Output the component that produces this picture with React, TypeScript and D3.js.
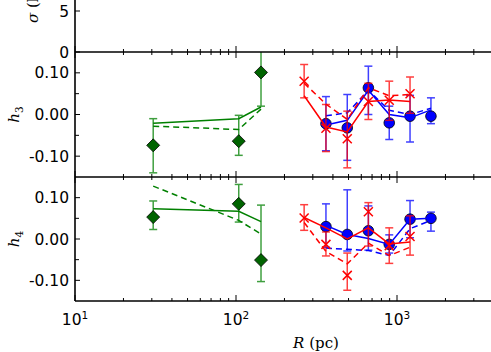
import React from 'react'
import * as d3 from 'd3'

// radii (pc) for each data set
const greenR = [30.6, 104, 143]
const redR = [265, 362, 491, 664, 895, 1205]
const blueR = [362, 491, 664, 895, 1205, 1625]

// h3 panel
const greenH3 = [-0.074, -0.064, 0.101]
const greenH3Lo = [-0.140, -0.098, 0.020]
const greenH3Hi = [-0.010, -0.002, 0.185]
const greenH3Solid = [-0.021, -0.010, 0.018]
const greenH3Dashed = [-0.028, -0.036, 0.013]

const redH3 = [0.080, -0.033, -0.058, 0.031, 0.034, 0.050]
const redH3Lo = [0.040, -0.089, -0.128, -0.012, -0.014, 0.003]
const redH3Hi = [0.120, 0.024, 0.008, 0.075, 0.080, 0.090]
const redH3Solid = [0.045, -0.030, -0.042, 0.031, 0.035, 0.031]
const redH3Dashed = [0.075, 0.025, -0.012, 0.064, 0.045, 0.048]

const blueH3 = [-0.022, -0.032, 0.064, -0.020, -0.004, -0.004]
const blueH3Lo = [-0.087, -0.110, 0.000, -0.060, -0.066, -0.022]
const blueH3Hi = [0.043, 0.048, 0.116, 0.020, 0.046, 0.040]
const blueH3Solid = [-0.025, -0.014, 0.058, 0.000, -0.008, 0.011]
const blueH3Dashed = [-0.003, 0.004, 0.058, 0.010, 0.000, 0.015]

// h4 panel
const greenH4 = [0.053, 0.085, -0.051]
const greenH4Lo = [0.023, 0.041, -0.103]
const greenH4Hi = [0.092, 0.132, 0.082]
const greenH4Solid = [0.073, 0.067, 0.042]
const greenH4Dashed = [0.128, 0.045, 0.012]

const redH4 = [0.051, -0.013, -0.088, 0.066, -0.016, 0.006]
const redH4Lo = [0.021, -0.041, -0.124, -0.017, -0.059, -0.039]
const redH4Hi = [0.083, 0.017, -0.034, 0.088, 0.027, 0.056]
const redH4Solid = [0.052, 0.027, 0.000, 0.027, -0.012, -0.007]
const redH4Dashed = [0.040, -0.030, -0.060, -0.010, -0.040, -0.020]

const blueH4 = [0.030, 0.011, 0.020, -0.013, 0.048, 0.050]
const blueH4Lo = [-0.020, -0.029, -0.027, -0.034, 0.003, 0.019]
const blueH4Hi = [0.085, 0.119, 0.080, 0.010, 0.093, 0.065]
const blueH4Solid = [0.033, 0.011, 0.001, -0.013, 0.048, 0.050]
const blueH4Dashed = [-0.022, -0.025, -0.028, -0.040, 0.025, 0.045]

const hTicks = [0.1, 0, -0.1]
const hTickLabels = ['0.10', '0.00', '-0.10']
const hMinor = [0.05, -0.05]
const sigmaTicks = [5, 0]
const xMajor = [10, 100, 1000]
const xExp = ['1', '2', '3']

const GREEN = '#008000'
const RED = '#ff0000'
const BLUE = '#0000ff'

const width = 491
const height = 352
const left = 75
const right = 495
const tickFont = 15.5

const x = d3.scaleLog().domain([10, 4000]).range([left, left + 161 * Math.log10(400)])
const ySig = d3.scaleLinear().domain([0, 15]).range([52, -71])
const yH3 = d3.scaleLinear().domain([-0.15, 0.15]).range([177, 52])
const yH4 = d3.scaleLinear().domain([-0.15, 0.15]).range([301, 177])

const xMinor: number[] = []
for (const dec of [10, 100, 1000]) {
  for (let k = 2; k <= 9; k++) if (dec * k <= 4000) xMinor.push(dec * k)
}

type Set = {
  r: number[]; v: number[]; lo: number[]; hi: number[]; solid: number[]; dashed: number[]
  color: string; marker: 'diamond' | 'x' | 'circle'
}

const Series = ({ s, y }: { s: Set; y: d3.ScaleLinear<number, number> }) => {
  const ln = d3.line<number>().x((_, i) => x(s.r[i])).y(d => y(d))
  return (
    <g>
      {s.r.map((r, i) => (
        <g key={'e' + i} stroke={s.color} strokeWidth={1.5} opacity={0.75}>
          <line x1={x(r)} x2={x(r)} y1={y(s.lo[i])} y2={y(s.hi[i])} />
          <line x1={x(r) - 4} x2={x(r) + 4} y1={y(s.lo[i])} y2={y(s.lo[i])} />
          <line x1={x(r) - 4} x2={x(r) + 4} y1={y(s.hi[i])} y2={y(s.hi[i])} />
        </g>
      ))}
      {s.r.map((r, i) => {
        const cx = x(r), cy = y(s.v[i])
        if (s.marker === 'diamond')
          return <path key={'m' + i} d={`M${cx},${cy - 6.5}L${cx + 6.5},${cy}L${cx},${cy + 6.5}L${cx - 6.5},${cy}Z`} fill="#006400" stroke="#000" strokeWidth={0.8} />
        if (s.marker === 'circle')
          return <circle key={'m' + i} cx={cx} cy={cy} r={5.3} fill={BLUE} stroke="#000" strokeWidth={0.8} />
        return <path key={'m' + i} d={`M${cx - 4.5},${cy - 4.5}L${cx + 4.5},${cy + 4.5}M${cx - 4.5},${cy + 4.5}L${cx + 4.5},${cy - 4.5}`} stroke={s.color} strokeWidth={1.5} />
      })}
      <path d={ln(s.solid) ?? ''} fill="none" stroke={s.color} strokeWidth={1.5} />
      <path d={ln(s.dashed) ?? ''} fill="none" stroke={s.color} strokeWidth={1.5} strokeDasharray="6,4" />
    </g>
  )
}

const XTicks = ({ top, bottom }: { top: number; bottom: number }) => (
  <g stroke="#000" strokeWidth={1}>
    {xMajor.map(t => (
      <g key={'M' + t}>
        <line x1={x(t)} x2={x(t)} y1={top} y2={top + 6} />
        <line x1={x(t)} x2={x(t)} y1={bottom} y2={bottom - 6} />
      </g>
    ))}
    {xMinor.map(t => (
      <g key={'m' + t}>
        <line x1={x(t)} x2={x(t)} y1={top} y2={top + 3} />
        <line x1={x(t)} x2={x(t)} y1={bottom} y2={bottom - 3} />
      </g>
    ))}
  </g>
)

const HPanel = ({ y, id, label, sets }: { y: d3.ScaleLinear<number, number>; id: string; label: string; sets: Set[] }) => {
  const [bottom, top] = y.range()
  return (
    <g>
      <clipPath id={id}>
        <rect x={left} y={top} width={right - left} height={bottom - top} />
      </clipPath>
      <g clipPath={`url(#${id})`}>
        {sets.map((s, i) => <Series key={i} s={s} y={y} />)}
      </g>
      <XTicks top={top} bottom={bottom} />
      {hTicks.map((t, i) => (
        <g key={t}>
          <line x1={left} x2={left + 5} y1={y(t)} y2={y(t)} stroke="#000" />
          <text x={left - 6} y={y(t) + 5.5} textAnchor="end" fontSize={tickFont} fontFamily="DejaVu Sans">{hTickLabels[i]}</text>
        </g>
      ))}
      {hMinor.map(t => (
        <line key={t} x1={left} x2={left + 4} y1={y(t)} y2={y(t)} stroke="#000" />
      ))}
      <text transform={`translate(19,${(top + bottom) / 2}) rotate(-90)`} textAnchor="middle" fontFamily="DejaVu Serif" fontSize={15}>
        <tspan fontStyle="italic">h</tspan>
        <tspan fontSize={10.5} dy={4}>{label}</tspan>
      </text>
    </g>
  )
}

const App = () => {
  const h3Sets: Set[] = [
    { r: greenR, v: greenH3, lo: greenH3Lo, hi: greenH3Hi, solid: greenH3Solid, dashed: greenH3Dashed, color: GREEN, marker: 'diamond' },
    { r: blueR, v: blueH3, lo: blueH3Lo, hi: blueH3Hi, solid: blueH3Solid, dashed: blueH3Dashed, color: BLUE, marker: 'circle' },
    { r: redR, v: redH3, lo: redH3Lo, hi: redH3Hi, solid: redH3Solid, dashed: redH3Dashed, color: RED, marker: 'x' },
  ]
  const h4Sets: Set[] = [
    { r: greenR, v: greenH4, lo: greenH4Lo, hi: greenH4Hi, solid: greenH4Solid, dashed: greenH4Dashed, color: GREEN, marker: 'diamond' },
    { r: blueR, v: blueH4, lo: blueH4Lo, hi: blueH4Hi, solid: blueH4Solid, dashed: blueH4Dashed, color: BLUE, marker: 'circle' },
    { r: redR, v: redH4, lo: redH4Lo, hi: redH4Hi, solid: redH4Solid, dashed: redH4Dashed, color: RED, marker: 'x' },
  ]
  const [sb, st] = ySig.range()
  return (
    <svg width={width} height={height} style={{ position: 'absolute', left: 0, top: 0, background: '#fff' }}>
      {/* sigma panel, mostly cut off above */}
      <XTicks top={st} bottom={sb} />
      {sigmaTicks.map(t => (
        <g key={t}>
          <line x1={left} x2={left + 5} y1={ySig(t)} y2={ySig(t)} stroke="#000" />
          <text x={left - 6} y={ySig(t) + 5.5} textAnchor="end" fontSize={tickFont} fontFamily="DejaVu Sans">{t}</text>
        </g>
      ))}
      <text transform={`translate(38,23) rotate(-90)`} fontFamily="DejaVu Serif" fontSize={15}>
        <tspan fontStyle="italic">σ</tspan> (km s<tspan fontSize={10} dy={-5}>−1</tspan><tspan dy={5}>)</tspan>
      </text>

      <HPanel y={yH3} id="clip-h3" label="3" sets={h3Sets} />
      <HPanel y={yH4} id="clip-h4" label="4" sets={h4Sets} />

      {/* frames */}
      <g fill="none" stroke="#000" strokeWidth={1.6}>
        <line x1={left} x2={left} y1={st} y2={301} />
        <line x1={left} x2={right} y1={52} y2={52} />
        <line x1={left} x2={right} y1={177} y2={177} />
        <line x1={left} x2={right} y1={301} y2={301} />
      </g>

      {xMajor.map((t, i) => (
        <text key={t} x={x(t)} y={325} textAnchor="middle" fontFamily="DejaVu Sans" fontSize={tickFont}>
          10<tspan fontSize={10.5} dy={-6}>{xExp[i]}</tspan>
        </text>
      ))}
      <text x={316} y={348} textAnchor="middle" fontFamily="DejaVu Serif" fontSize={15}>
        <tspan fontStyle="italic">R</tspan> (pc)
      </text>
    </svg>
  )
}

export default App
